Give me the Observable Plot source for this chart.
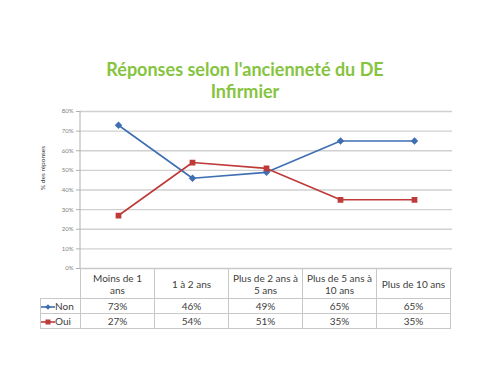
<!DOCTYPE html>
<html><head><meta charset="utf-8">
<script src="https://cdn.jsdelivr.net/npm/d3@7"></script>
<script src="https://cdn.jsdelivr.net/npm/@observablehq/plot@0.6"></script>
<style>
body{margin:0;background:#fff;}
#wrap{position:relative;width:500px;height:375px;overflow:hidden;font-family:Lato,"Open Sans",sans-serif;}
#title{position:absolute;left:0;width:490px;top:58px;text-align:center;color:#86c440;font-weight:bold;font-size:18px;line-height:22px;}
#chart{position:absolute;left:0;top:104px;}
#tbl{position:absolute;border-collapse:collapse;font-size:10px;color:#404040;table-layout:fixed;}
#tbl td{border:1px solid #c8c8c8;text-align:center;padding:0;line-height:12px;white-space:pre-line;}
#tbl td.empty{border:none;border-right:1px solid #c8c8c8;}
#tbl td.leg{text-align:left;white-space:nowrap;}
</style></head>
<body>
<div id="wrap">
  <div id="title">Réponses selon l'ancienneté du DE<br>Infirmier</div>
  <div id="chart"></div>
  <table id="tbl"></table>
</div>
<script>
const categories = ["Moins de 1 ans","1 à 2 ans","Plus de 2 ans à 5 ans","Plus de 5 ans à 10 ans","Plus de 10 ans"];
const headerLabels = ["Moins de 1\nans","1 à 2 ans","Plus de 2 ans à\n5 ans","Plus de 5 ans à\n10 ans","Plus de 10 ans"];
const seriesNames = ["Non","Oui"];
const nonValues = [73,46,49,65,65];
const ouiValues = [27,54,51,35,35];
const yTicks = [0,10,20,30,40,50,60,70,80];
const colors = ["#3f6fb3","#be3b3a"];
const symbols = ["diamond2","square"];

const rows = [];
categories.forEach((c,i)=>{
  rows.push({cat:c, series:"Non", value:nonValues[i]});
  rows.push({cat:c, series:"Oui", value:ouiValues[i]});
});

const chart = Plot.plot({
  width:500, height:167,
  marginTop:7, marginBottom:3, marginLeft:80, marginRight:48,
  x:{type:"band", domain:categories, padding:0, axis:null},
  y:{domain:[0,80], axis:null},
  color:{domain:seriesNames, range:colors},
  symbol:{domain:seriesNames, range:symbols},
  style:{fontFamily:"Lato, 'Open Sans', sans-serif", background:"transparent", overflow:"visible"},
  marks:[
    Plot.ruleY(yTicks, {stroke:"#d0d0d0", strokeWidth:1.3}),
    Plot.axisY(yTicks, {label:null, tickSize:4, tickPadding:3, stroke:"#b0b0b0", fill:"#808080", fontSize:6, tickFormat:d=>d+"%"}),
    Plot.text(["% des réponses"], {frameAnchor:"left", rotate:-90, dx:-38, fontSize:6.5, fill:"#333"}),
    Plot.line(rows, {x:"cat", y:"value", z:"series", stroke:"series", strokeWidth:1.6}),
    Plot.dot(rows, {x:"cat", y:"value", symbol:"series", fill:"series", stroke:"series", r:2.4})
  ]
});
document.getElementById("chart").appendChild(chart);

const xs = chart.scale("x"), ys = chart.scale("y");
const left = xs.range[0];
d3.select(chart).append("line")
  .attr("x1", left).attr("x2", left)
  .attr("y1", ys.apply(80)).attr("y2", ys.apply(0))
  .attr("stroke", "#b0b0b0");

const legW = 40;
const bw = xs.bandwidth;
const tbl = document.getElementById("tbl");
tbl.style.left = (left - legW) + "px";
tbl.style.top = (104 + ys.apply(0)) + "px";
tbl.style.width = (legW + bw*categories.length) + "px";
const cg = document.createElement("colgroup");
[legW, ...categories.map(()=>bw)].forEach(w=>{const c=document.createElement("col"); c.style.width=w+"px"; cg.appendChild(c);});
tbl.appendChild(cg);
const hr = tbl.insertRow(); hr.style.height="30px";
const e = hr.insertCell(); e.className="empty";
headerLabels.forEach(h=>{const td=hr.insertCell(); td.textContent=h;});
[nonValues, ouiValues].forEach((vals,si)=>{
  const tr = tbl.insertRow(); tr.style.height="15px";
  const td = tr.insertCell(); td.className="leg";
  const sym = si===0
    ? '<path d="M7,1.2 L9.8,4 L7,6.8 L4.2,4Z" fill="'+colors[si]+'"/>'
    : '<rect x="4.5" y="1.5" width="5" height="5" fill="'+colors[si]+'"/>';
  td.innerHTML = '<svg width="14" height="8" style="vertical-align:middle"><line x1="0" x2="14" y1="4" y2="4" stroke="'+colors[si]+'" stroke-width="1.6"/>'+sym+'</svg>'+seriesNames[si];
  vals.forEach(v=>{const c=tr.insertCell(); c.textContent=v+"%";});
});
</script>
</body></html>
